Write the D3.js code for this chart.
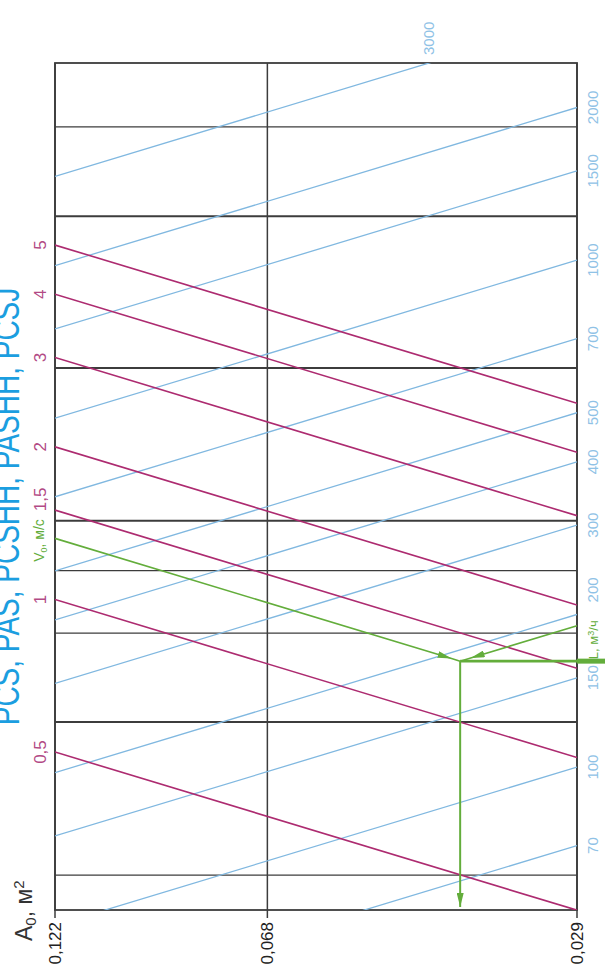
<!DOCTYPE html>
<html>
<head>
<meta charset="utf-8">
<script src="https://cdn.jsdelivr.net/npm/d3@7"></script>
<style>
  html, body { margin: 0; padding: 0; background: #fff; }
  svg { display: block; font-family: "Liberation Sans", Arial, sans-serif; }
</style>
</head>
<body>
<svg id="chart"></svg>
<script>
// effective area A0, m² (bottom axis ticks)
const areaTicks = [0.122, 0.068, 0.029];
// velocity lines V0, m/s
const velocities = [0.5, 1, 1.5, 2, 3, 4, 5];
const velocityLabels = ["0,5", "1", "1,5", "2", "3", "4", "5"];
// airflow lines L, m³/h
const flows = [70, 100, 150, 200, 300, 400, 500, 700, 1000, 1500, 2000, 3000];
// black horizontal guide lines, in units of the nomogram axis (V at A0 = 0,122)
const guideLines = [8.55, 5.7, 2.86, 1.43, 1.14, 0.858, 0.573, 0.286];
const guideHeavy = [5.7, 2.86, 1.43, 0.573];
// worked example
const exampleArea = 0.04;
const exampleFlow = 190;

const title = "PCS, PAS, PCSHH, PASHH, PCSJ";

const W = 605, H = 975;
const LEFT = 55, RIGHT = 577, TOP = 63, BOTTOM = 910;
const A_REF = areaTicks[0];

const C_GRID = "#3c3c3c";
const C_BLUE = "#80b8e0";
const C_BLUE_TXT = "#8fc2e6";
const C_MAG = "#ad2b70";
const C_MAG_TXT = "#b24a85";
const C_GREEN = "#63ad3b";

const svg = d3.select("#chart").attr("width", W).attr("height", H);

const x = d3.scaleLog().domain([areaTicks[0], areaTicks[2]]).range([LEFT, RIGHT]);
const y = d3.scaleLog().domain([0.244, 11.43]).range([BOTTOM, TOP]);

// nomogram axis value for a velocity at a given area
const u = (v, a) => v * Math.sqrt(a / A_REF);
const vel = (l, a) => l / (3600 * a);
const pt = (v, a) => [x(a), y(u(v, a))];

const line = d3.line();

const defs = svg.append("defs");
defs.append("clipPath").attr("id", "plot")
  .append("rect").attr("x", LEFT).attr("y", TOP)
  .attr("width", RIGHT - LEFT).attr("height", BOTTOM - TOP);

defs.append("marker")
  .attr("id", "arrow")
  .attr("markerUnits", "userSpaceOnUse")
  .attr("viewBox", "0 0 14 7")
  .attr("markerWidth", 14).attr("markerHeight", 7)
  .attr("refX", 14).attr("refY", 3.5)
  .attr("orient", "auto")
  .append("path").attr("d", "M0,0L14,3.5L0,7Z").attr("fill", C_GREEN);

// rotated text helper (reads bottom to top)
function rtext(g, px, py, txt, anchor) {
  return g.append("text")
    .attr("transform", `translate(${px},${py}) rotate(-90)`)
    .attr("text-anchor", anchor || "middle")
    .attr("dy", "0.35em")
    .text(txt);
}

// ---- grid ----
const grid = svg.append("g");
grid.selectAll("line.h")
  .data(guideLines)
  .enter().append("line")
  .attr("class", "h")
  .attr("x1", LEFT).attr("x2", RIGHT)
  .attr("y1", d => y(d)).attr("y2", d => y(d))
  .attr("stroke", C_GRID)
  .attr("stroke-width", d => guideHeavy.includes(d) ? 2 : 1.3);

grid.selectAll("line.v")
  .data(areaTicks)
  .enter().append("line")
  .attr("class", "v")
  .attr("x1", d => x(d)).attr("x2", d => x(d))
  .attr("y1", TOP).attr("y2", BOTTOM + 8)
  .attr("stroke", C_GRID)
  .attr("stroke-width", 1.5);

grid.append("rect")
  .attr("x", LEFT).attr("y", TOP)
  .attr("width", RIGHT - LEFT).attr("height", BOTTOM - TOP)
  .attr("fill", "none")
  .attr("stroke", C_GRID)
  .attr("stroke-width", 1.8);

// ---- flow lines ----
const plot = svg.append("g").attr("clip-path", "url(#plot)");
plot.selectAll("path.flow")
  .data(flows)
  .enter().append("path")
  .attr("class", "flow")
  .attr("d", l => line([pt(vel(l, areaTicks[0]), areaTicks[0]), pt(vel(l, areaTicks[2]), areaTicks[2])]))
  .attr("fill", "none")
  .attr("stroke", C_BLUE)
  .attr("stroke-width", 1.3);

// ---- velocity lines ----
plot.selectAll("path.vel")
  .data(velocities)
  .enter().append("path")
  .attr("class", "vel")
  .attr("d", v => line([pt(v, areaTicks[0]), pt(v, areaTicks[2])]))
  .attr("fill", "none")
  .attr("stroke", C_MAG)
  .attr("stroke-width", 1.6);

// ---- example (green) ----
const exV = vel(exampleFlow, exampleArea);
const pI = pt(exV, exampleArea);
function towards(p0, p1, back) {
  const dx = p1[0] - p0[0], dy = p1[1] - p0[1];
  const len = Math.hypot(dx, dy);
  return [p1[0] - dx / len * back, p1[1] - dy / len * back];
}
const pV0 = pt(exV, areaTicks[0]);
const pL0 = pt(vel(exampleFlow, areaTicks[2]), areaTicks[2]);
const ex = svg.append("g").attr("fill", "none").attr("stroke", C_GREEN);
ex.append("path")
  .attr("d", line([pV0, towards(pV0, pI, 9), pI]))
  .attr("stroke-width", 1.6)
  .attr("marker-mid", "url(#arrow)");
ex.append("path")
  .attr("d", line([pL0, towards(pL0, pI, 11), pI]))
  .attr("stroke-width", 1.6)
  .attr("marker-mid", "url(#arrow)");
ex.append("path")
  .attr("d", line([pI, [pI[0], BOTTOM - 3]]))
  .attr("stroke-width", 2)
  .attr("marker-end", "url(#arrow)");
ex.append("path")
  .attr("d", line([pI, [RIGHT, pI[1]]]))
  .attr("stroke-width", 2.6);
ex.append("path")
  .attr("d", line([[RIGHT, pI[1]], [W, pI[1]]]))
  .attr("stroke-width", 5);

// ---- labels ----
const lab = svg.append("g");

// velocity labels
const vl = lab.append("g").attr("fill", C_MAG_TXT).attr("font-size", 17);
velocities.forEach((v, i) => {
  const py = y(u(v, areaTicks[0]));
  if (v === 1.5) rtext(vl, LEFT - 15, py + 1, velocityLabels[i], "start");
  else rtext(vl, LEFT - 15, py, velocityLabels[i]);
});
// V0 caption
const vcap = lab.append("text")
  .attr("transform", `translate(${LEFT - 16},${y(u(1.5, areaTicks[0])) + 9}) rotate(-90)`)
  .attr("text-anchor", "end")
  .attr("dy", "0.35em")
  .attr("fill", C_GREEN)
  .attr("font-size", 14);
vcap.append("tspan").text("V");
vcap.append("tspan").attr("font-size", 9).attr("dy", 3).text("0");
vcap.append("tspan").attr("dy", -3).text(", м/с");

// flow labels
const fl = lab.append("g").attr("fill", C_BLUE_TXT).attr("font-size", 15);
flows.forEach(l => {
  const yEnd = y(u(vel(l, areaTicks[2]), areaTicks[2]));
  if (yEnd >= TOP) {
    if (l === 200) rtext(fl, RIGHT + 16, yEnd - 12, String(l), "start");
    else rtext(fl, RIGHT + 16, yEnd, String(l));
  } else {
    // where the line leaves the top edge
    const uTop = y.domain()[1];
    const aTop = Math.pow(l / (3600 * uTop), 2) / A_REF;
    rtext(fl, x(aTop), TOP - 8, String(l), "start");
  }
});
// L caption
const lcap = lab.append("text")
  .attr("transform", `translate(${RIGHT + 16},${pI[1] - 2}) rotate(-90)`)
  .attr("text-anchor", "start")
  .attr("dy", "0.35em")
  .attr("fill", C_GREEN)
  .attr("font-size", 13);
lcap.append("tspan").text("L, м");
lcap.append("tspan").attr("font-size", 9).attr("dy", -4).text("3");
lcap.append("tspan").attr("dy", 4).text("/ч");

// area tick labels
const al = lab.append("g").attr("fill", "#222").attr("font-size", 17);
areaTicks.forEach(a => {
  rtext(al, x(a), BOTTOM + 12, String(a).replace(".", ","), "end");
});

// A0 caption
const acap = lab.append("text")
  .attr("transform", `translate(${LEFT - 31},${BOTTOM + 31}) rotate(-90)`)
  .attr("text-anchor", "start")
  .attr("dy", "0.35em")
  .attr("fill", "#333")
  .attr("font-size", 23);
acap.append("tspan").text("A");
acap.append("tspan").attr("font-size", 15).attr("dy", 4).text("0");
acap.append("tspan").attr("dy", -4).text(", м");
acap.append("tspan").attr("font-size", 15).attr("dy", -8).text("2");

// title, partly cut by the left edge as in the source scan
svg.append("text")
  .attr("transform", `translate(19,${(TOP + BOTTOM) / 2 + 20}) rotate(-90) scale(1,1.35)`)
  .attr("text-anchor", "middle")
  .attr("fill", "#1b9ee0")
  .attr("font-size", 28)
  .text(title);
</script>
</body>
</html>
